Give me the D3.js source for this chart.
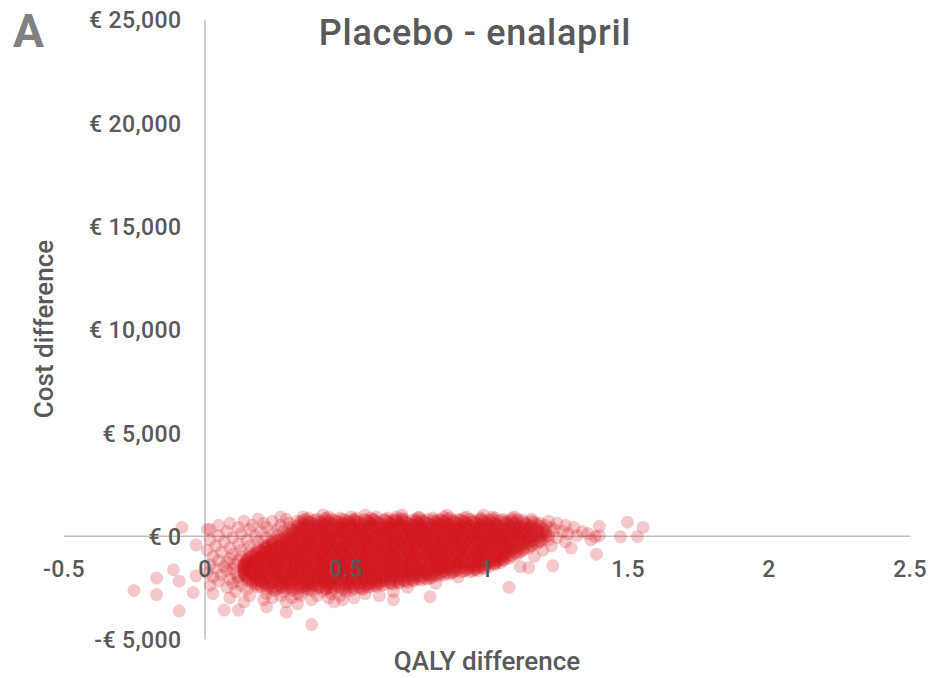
<!DOCTYPE html>
<html>
<head>
<meta charset="utf-8">
<script src="https://cdn.jsdelivr.net/npm/d3@7"></script>
<style>
  body { margin: 0; background: #fff; }
  svg { display: block; }
  text { font-family: Roboto, "DejaVu Sans", sans-serif; fill: #595959; }
</style>
</head>
<body>
<svg id="chart" width="928" height="678"></svg>
<script>
// Axis ticks and their labels
const xTicks = [-0.5, 0, 0.5, 1, 1.5, 2, 2.5];
const xTickLabels = ["-0.5", "0", "0.5", "1", "1.5", "2", "2.5"];
const yTicks = [-5000, 0, 5000, 10000, 15000, 20000, 25000];
const yTickLabels = ["-€ 5,000", "€ 0", "€ 5,000", "€ 10,000", "€ 15,000", "€ 20,000", "€ 25,000"];

// Simulation results, grouped by cost difference (€); QALY differences listed in hundredths
const bandCosts = [1000, 900, 800, 700, 600, 500, 400, 300, 200, 100, 0,
  -100, -200, -300, -400, -500, -600, -700, -800, -900, -1000,
  -1100, -1200, -1300, -1400, -1500, -1600, -1700, -1800, -1900, -2000,
  -2100, -2200, -2300, -2400, -2500, -2600, -2700, -2800, -2900, -3000,
  -3100, -3200, -3300];
const bandQalys = [
  "42 57 70 86 99",
  "27 35 44 52 61 68 76 85 93 102 110",
  "19 29 36 40 45 49 53 57 60 64 68 71 75 79 83 86 90 94 98 102 106 111 116",
  "14 24 33 37 41 44 47 51 54 58 61 65 68 71 75 78 82 85 89 92 96 99 103 107 111 116 122",
  "9 21 30 35 38 42 45 49 52 55 59 62 66 69 72 76 79 83 86 89 93 96 100 103 107 110 114 119 125",
  "5 17 27 33 37 40 43 47 50 54 57 60 64 67 70 74 77 81 84 87 91 94 98 101 104 108 112 116 121 128",
  "12 22 30 34 38 41 45 48 52 55 58 62 65 69 72 75 79 82 86 89 92 96 99 103 106 110 113 117 123 131",
  "2 16 26 31 35 39 42 46 49 53 56 59 63 66 70 73 77 80 83 87 90 94 97 101 104 107 111 114 118 124",
  "8 20 28 32 36 40 43 47 50 54 57 61 64 67 71 74 78 81 85 88 91 95 98 102 105 109 112 116 120 127 134",
  "13 24 30 33 37 41 44 48 51 55 58 62 65 68 72 75 79 82 86 89 92 96 99 103 106 110 113 117 121 129",
  "5 18 26 31 35 38 42 45 49 52 56 59 63 66 70 73 76 80 83 87 90 94 97 100 104 107 111 114 118 122 132 140",
  "10 22 28 32 36 39 43 46 50 53 57 60 64 67 71 74 77 81 84 88 91 95 98 101 105 108 112 115 119 125",
  "2 15 24 27 31 34 38 41 45 48 52 55 58 62 65 69 72 76 79 82 86 89 93 96 100 103 106 110 113 117 122 137",
  "7 19 25 29 32 36 39 43 46 50 53 57 60 63 67 70 74 77 81 84 87 91 94 98 101 105 108 111 115 119 128",
  "12 21 24 28 31 35 38 42 45 49 52 55 59 62 66 69 73 76 79 83 86 90 93 97 100 103 107 110 114 118",
  "4 16 22 26 29 33 36 40 43 47 50 54 57 61 64 67 71 74 78 81 85 88 91 95 98 102 105 109 112 116 123",
  "9 19 22 25 29 32 36 39 43 46 49 53 56 60 63 67 70 73 77 80 84 87 91 94 97 101 104 108 111 115",
  "1 13 20 23 27 30 34 37 41 44 48 51 55 58 61 65 68 72 75 79 82 85 89 92 96 99 103 106 109 113 120",
  "6 16 19 22 26 29 33 36 40 43 46 50 53 57 60 64 67 70 74 77 81 84 88 91 94 98 101 105 108 112",
  "10 18 21 25 28 31 35 38 42 45 49 52 55 59 62 66 69 73 76 79 83 86 90 93 97 100 103 107 111",
  "3 13 17 20 24 27 31 34 38 41 44 48 51 55 58 62 65 68 72 75 79 82 86 89 92 96 99 103 106 109 117",
  "9 16 19 23 26 29 33 36 40 43 47 50 54 57 60 64 67 71 74 78 81 84 88 91 95 98 101 105 108",
  "5 12 15 18 22 25 29 32 36 39 42 46 49 53 56 60 63 66 70 73 77 80 84 87 90 94 97 101 104 106",
  "8 15 18 21 25 28 32 35 38 42 45 49 52 56 59 62 66 69 73 76 80 83 86 90 93 97 100 103 105",
  "2 11 14 17 21 24 27 31 34 38 41 45 48 51 55 58 62 65 69 72 75 79 82 86 89 92 96 99 103",
  "7 14 17 20 24 27 31 34 37 41 44 48 51 55 58 61 65 68 72 75 79 82 85 89 92 95 98 101 112",
  "4 10 14 18 21 24 28 31 35 38 42 45 48 52 55 59 62 66 69 72 76 79 83 86 89 93 96 99",
  "8 14 17 20 24 27 31 34 37 41 44 48 51 54 58 61 65 68 72 75 78 82 85 89 92 95 97",
  "1 11 14 18 21 25 28 31 35 38 42 45 49 52 55 59 62 66 69 72 76 79 83 86 88",
  "6 14 17 20 24 27 31 34 38 41 44 48 51 55 58 62 65 68 72 75 79 82 85",
  "3 12 15 19 22 26 29 32 36 39 43 46 50 53 56 60 63 67 70 74 77 81 90",
  "9 15 18 21 25 28 32 35 39 42 45 49 52 56 59 63 66 69 73 76 79",
  "5 12 16 20 23 27 30 33 37 40 44 47 51 54 57 61 64 68 71 74",
  "10 17 21 24 28 31 35 38 42 45 48 52 55 59 62 66 69 82",
  "2 13 18 22 26 29 33 36 39 43 46 50 53 57 60 63",
  "8 19 23 27 30 34 37 41 44 48 51 55 58 72",
  "15 24 31 37 43 49 56",
  "11 28 35 42 50 67",
  "3 22 33 45 57",
  "16 27 34 40 48 62",
  "9 24 31 44 53",
  "21 38 49",
  "14 29 46",
  "33"
];

// Further simulations in the dense core, at the intermediate cost levels (€)
const coreCosts = [850, 750, 650, 550, 450, 350, 250, 150, 50,
  -50, -150, -250, -350, -450, -550, -650, -750, -850, -950,
  -1050, -1150, -1250, -1350, -1450, -1550, -1650, -1750, -1850, -1950,
  -2050, -2150, -2250, -2350, -2450, -2550, -2650];
const coreQalys = [
  "37 43 48 54 59 65 70 76 81 87 92 98 103 109",
  "35 39 43 46 50 53 57 60 64 67 70 74 77 81 84 88 91 95 98 101 105 109 113",
  "34 37 41 44 48 51 54 58 61 65 68 71 75 78 82 85 88 92 95 99 102 106 109 113 117",
  "35 39 42 45 49 52 56 59 62 66 69 73 76 80 83 86 90 93 97 100 103 107 110 114 118",
  "33 36 40 43 47 50 53 57 60 64 67 71 74 77 81 84 88 91 94 98 101 105 108 112 115 119",
  "34 37 41 44 48 51 55 58 61 65 68 72 75 78 82 85 89 92 96 99 102 106 109 113 116 120",
  "31 34 38 42 45 49 52 55 59 62 66 69 73 76 79 83 86 90 93 96 100 103 107 110 114 118 121",
  "32 35 39 42 46 49 53 56 60 63 66 70 73 77 80 84 87 90 94 97 101 104 108 111 115 119",
  "30 33 37 40 44 47 51 54 57 61 64 68 71 74 78 81 85 88 92 95 98 102 105 109 112 116 120",
  "29 34 37 40 44 47 51 54 58 61 65 68 71 75 78 82 85 89 92 95 99 102 106 109 113 116 121",
  "28 30 33 36 40 43 47 50 53 57 60 64 67 70 74 77 81 84 88 91 94 98 101 105 108 112 115 120",
  "26 29 33 37 40 44 47 51 54 57 61 64 68 71 75 78 81 85 88 92 95 99 102 105 109 112 116 119",
  "24 27 30 34 37 41 44 48 51 55 58 61 65 68 72 75 78 82 85 89 92 96 99 102 106 109 113 117",
  "23 26 30 33 37 40 43 47 50 54 57 60 64 67 71 74 78 81 84 88 91 95 98 101 105 108 112 116",
  "22 24 27 31 34 38 41 45 48 51 55 58 62 65 69 72 75 79 82 86 89 92 96 99 103 106 110 114",
  "21 24 27 30 34 37 41 44 47 51 54 58 61 65 68 71 75 78 82 85 88 92 95 99 102 106 109 113",
  "20 22 25 28 32 35 39 42 45 49 52 56 59 63 66 69 73 76 80 83 86 90 93 97 100 104 107 111",
  "18 21 24 28 31 34 38 41 45 48 52 55 58 62 65 69 72 75 79 82 86 89 93 96 99 103 106 110",
  "17 20 23 26 30 33 37 40 43 47 50 54 57 61 64 67 71 74 78 81 84 88 91 95 98 101 105 108",
  "16 19 22 25 29 32 35 39 42 46 49 53 56 59 63 66 70 73 76 80 83 87 90 94 97 100 104 107",
  "15 18 21 24 27 31 34 38 41 44 48 51 55 58 62 65 68 72 75 79 82 85 89 92 96 99 103 106",
  "15 17 20 23 27 30 34 37 41 44 47 51 54 58 61 64 68 71 75 78 82 85 88 92 95 99 102 104",
  "14 16 19 23 26 29 33 36 40 43 46 50 53 57 60 64 67 70 74 77 81 84 87 91 94 98 101 103",
  "14 15 19 22 25 29 32 36 39 42 46 49 53 56 59 63 66 70 73 77 80 83 87 90 94 97 100",
  "14 16 19 22 26 29 32 36 39 43 46 50 53 56 60 63 67 70 73 77 80 84 87 91 94 97 99",
  "15 18 22 25 29 32 35 39 42 46 49 52 56 59 63 66 70 73 76 80 83 87 90 93 96",
  "14 16 19 23 26 30 33 36 40 43 47 50 53 57 60 64 67 71 74 77 81 84 88 91 94",
  "14 17 20 23 26 30 33 37 40 43 47 50 54 57 61 64 67 71 74 78 81 84 87",
  "15 18 22 25 28 32 35 39 42 46 49 52 56 59 63 66 70 73 76 80 83",
  "16 19 23 27 30 34 37 41 44 47 51 54 58 61 64 68 71 75 78 80",
  "17 20 23 26 30 33 37 40 43 47 50 54 57 61 64 67 71 74 77",
  "18 21 25 28 32 35 39 42 45 49 52 56 59 62 66 69 72",
  "19 23 27 30 34 37 40 44 47 51 54 58 61 64 67",
  "20 24 27 31 35 38 41 45 48 52 55 59 61",
  "22 26 29 33 36 40 43 46 50 53 56",
  "25 31 38 45 52"
];

// Isolated simulations away from the main cloud
const outlierQaly = [-0.25, -0.17, -0.17, -0.11, -0.09, -0.09, -0.08, -0.03, 0.01, -0.03,
  -0.04, 0.07, 0.12, 0.38, 0.22, 0.29, 1.50, 1.555, 1.475, 1.535,
  1.39, 1.385, 1.40, 1.15, 1.235, 1.08, 0.80, 0.67, 1.36, 1.30];
const outlierCost = [-2650, -2850, -2050, -1650, -2200, -3650, 400, -450, 300, -1950,
  -2750, -3600, -3600, -4300, -3450, -3700, 650, 400, -50, -50,
  -900, -50, 450, -1550, -1450, -2500, -2950, -3100, 100, -600];

// Flatten into point records
const points = [];
function addRows(rows, costs) {
  rows.forEach((row, i) => {
    row.trim().split(/\s+/).forEach(v => points.push({ q: +v / 100, c: costs[i] }));
  });
}
addRows(bandQalys, bandCosts);
addRows(coreQalys, coreCosts);
outlierQaly.forEach((q, i) => points.push({ q, c: outlierCost[i] }));

const svg = d3.select("#chart");

const x = d3.scaleLinear().domain([-0.5, 2.5]).range([63.5, 909.5]);
const y = d3.scaleLinear().domain([-5000, 25000]).range([639, 19]);

const xAxis = d3.axisBottom(x).tickValues(xTicks)
  .tickFormat((d, i) => xTickLabels[i]).tickSize(0).tickSizeOuter(0).tickPadding(25);
const yAxis = d3.axisLeft(y).tickValues(yTicks)
  .tickFormat((d, i) => yTickLabels[i]).tickSize(0).tickSizeOuter(0).tickPadding(23);

// Axis lines sit beneath the points
const lineLayer = svg.append("g");
const pointLayer = svg.append("g");
const labelLayer = svg.append("g");

const xLine = lineLayer.append("g").attr("transform", `translate(0,${y(0)})`).call(xAxis);
const yLine = lineLayer.append("g").attr("transform", `translate(${x(0)},0)`).call(yAxis);
[xLine, yLine].forEach(g => {
  g.selectAll(".tick").remove();
  g.select(".domain").attr("stroke", "#bfbfbf").attr("stroke-width", 1.5);
});

pointLayer.selectAll("circle")
  .data(points)
  .join("circle")
  .attr("cx", d => x(d.q))
  .attr("cy", d => y(d.c))
  .attr("r", 6.5)
  .attr("fill", "#d3141e")
  .attr("fill-opacity", 0.23);

// Tick labels drawn on top of the cloud
const xLab = labelLayer.append("g").attr("transform", `translate(0,${y(0)})`).call(xAxis);
const yLab = labelLayer.append("g").attr("transform", `translate(${x(0)},0)`).call(yAxis);
[xLab, yLab].forEach(g => {
  g.select(".domain").remove();
  g.selectAll(".tick text")
    .attr("fill", "#595959")
    .style("font-size", "23px")
    .style("font-weight", 500)
    .style("letter-spacing", "0.4px")
    .style("font-family", "Roboto, 'DejaVu Sans', sans-serif");
});
yLab.selectAll(".tick text").attr("dy", "0.38em");

// Titles
svg.append("text")
  .attr("x", 475).attr("y", 45)
  .attr("text-anchor", "middle")
  .style("font-size", "36px")
  .style("font-weight", 500)
  .style("letter-spacing", "0.7px")
  .text("Placebo - enalapril");

svg.append("text")
  .attr("x", 13).attr("y", 47)
  .style("font-size", "46px")
  .style("font-weight", "bold")
  .style("fill", "#808080")
  .text("A");

svg.append("text")
  .attr("transform", `translate(53,${(y(-5000) + y(25000)) / 2}) rotate(-90)`)
  .attr("text-anchor", "middle")
  .style("font-size", "26px")
  .style("font-weight", 500)
  .text("Cost difference");

svg.append("text")
  .attr("x", 487).attr("y", 670)
  .attr("text-anchor", "middle")
  .style("font-size", "26px")
  .style("font-weight", 500)
  .text("QALY difference");
</script>
</body>
</html>
